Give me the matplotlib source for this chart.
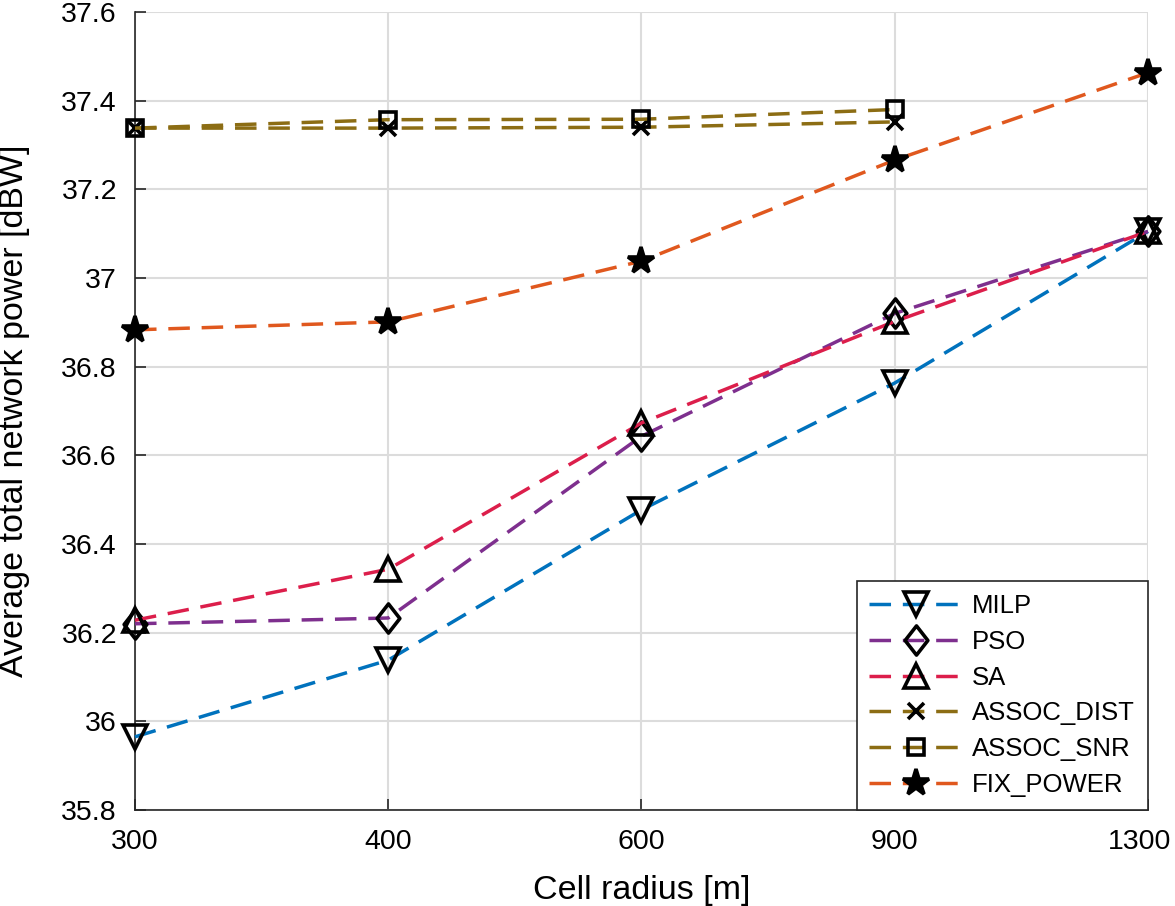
import matplotlib
matplotlib.use("Agg")
import matplotlib.pyplot as plt
import matplotlib.transforms as mtransforms
import numpy as np
from matplotlib.path import Path

plt.rcParams['font.family'] = ['Liberation Sans', 'DejaVu Sans']

radius_labels = ['300', '400', '600', '900', '1300']

milp = [35.965, 36.138, 36.477, 36.763, 37.105]
pso = [36.220, 36.233, 36.643, 36.920, 37.105]
sa = [36.228, 36.343, 36.673, 36.902, 37.105]
assoc_dist = [37.338, 37.338, 37.340, 37.352]
assoc_snr = [37.338, 37.357, 37.358, 37.380]
fix_power = [36.883, 36.901, 37.038, 37.266, 37.463]

c_milp = '#0072BD'
c_pso = '#7E2F8E'
c_sa = '#DC1E4B'
c_assoc = '#8C6D14'
c_fix = '#E0581E'

diamond = Path([(0, 1), (0.78, 0), (0, -1), (-0.78, 0), (0, 1)],
               [Path.MOVETO, Path.LINETO, Path.LINETO, Path.LINETO, Path.CLOSEPOLY])

fig = plt.figure(figsize=(11.75, 9.06), dpi=100)
ax = fig.add_axes([0.1149, 0.106, 0.977 - 0.1149, 0.9868 - 0.106])

dash = (0, (6.2, 3.4))
common = dict(linestyle=dash, linewidth=2.5, markeredgecolor='black',
              markeredgewidth=2.6, clip_on=False, zorder=3)

x5 = np.arange(len(radius_labels))
x4 = np.arange(len(assoc_dist))

ax.plot(x5, milp, color=c_milp, marker='v', markersize=17, markerfacecolor='none', label='MILP', **common)
ax.plot(x5, pso, color=c_pso, marker=diamond, markersize=21, markerfacecolor='none', label='PSO', **common)
ax.plot(x5, sa, color=c_sa, marker='^', markersize=17, markerfacecolor='none', label='SA', **common)
ax.plot(x4, assoc_dist, color=c_assoc, marker='x', markersize=11, markerfacecolor='none', label='ASSOC_DIST', **common)
ax.plot(x4, assoc_snr, color=c_assoc, marker='s', markersize=11, markerfacecolor='none', label='ASSOC_SNR', **common)
ax.plot(x5, fix_power, color=c_fix, marker='*', markersize=20, markerfacecolor='black', label='FIX_POWER', **common)

ax.set_xlim(0, 4)
ax.set_ylim(35.8, 37.6)
ax.set_xticks(x5)
ax.set_xticklabels(radius_labels)
yt = np.round(np.arange(35.8, 37.61, 0.2), 1)
ax.set_yticks(yt)
ax.set_yticklabels(['%g' % v for v in yt])

ax.grid(True, color='#DCDCDC', linewidth=1.5)
ax.set_axisbelow(True)
for s in ['top', 'right']:
    ax.spines[s].set_visible(False)
for s in ['left', 'bottom']:
    ax.spines[s].set_color('#262626')
    ax.spines[s].set_linewidth(1.2)
ax.tick_params(direction='in', length=8, width=1.2, colors='#262626',
               labelsize=20.5, labelcolor='black')
ax.tick_params(axis='y', pad=13)
ax.tick_params(axis='x', pad=14)

# keep the last x tick label inside the figure (as in the reference)
last = ax.get_xticklabels()[-1]
last.set_transform(last.get_transform() +
                   mtransforms.ScaledTranslation(-8 / 100, 0, fig.dpi_scale_trans))

ax.set_xlabel('Cell radius [m]', fontsize=24.5)
ax.set_ylabel('Average total network power [dBW]', fontsize=24.5)
ax.xaxis.set_label_coords(0.5, -0.082)
ax.yaxis.set_label_coords(-0.104, 0.5)

leg = ax.legend(loc='lower right', fontsize=18.5, handlelength=3.6, frameon=True,
                fancybox=False, edgecolor='#262626', framealpha=1,
                borderaxespad=0.0, labelspacing=0.46, handletextpad=0.4,
                borderpad=0.5)
leg.get_frame().set_linewidth(1.2)

fig.savefig('out.png', dpi=100)
